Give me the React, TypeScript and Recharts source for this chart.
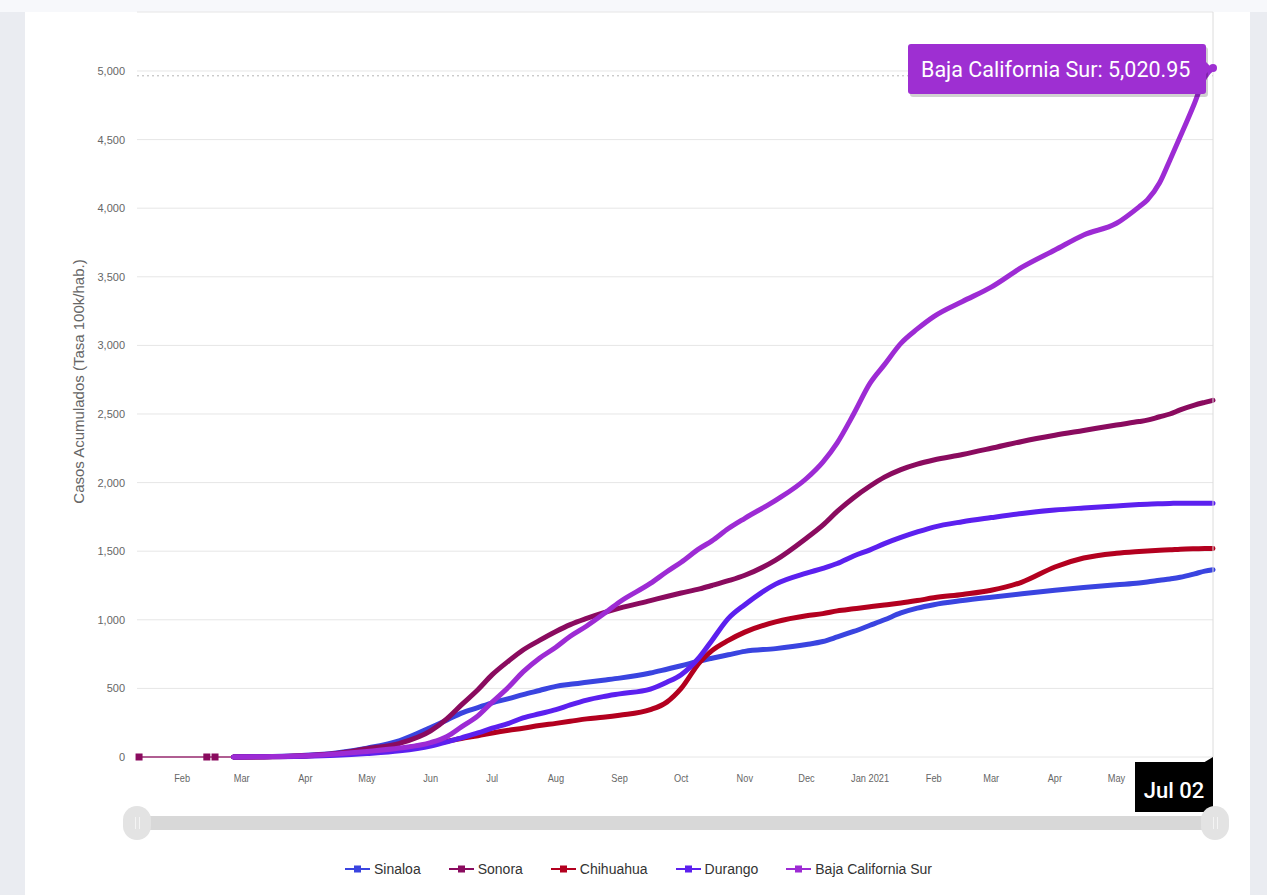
import {
  LineChart,
  Line,
  XAxis,
  YAxis,
  CartesianGrid,
  ReferenceLine,
  ReferenceDot,
} from 'recharts'

// day of year counted from Jan 1 2020 (Feb 1 2020 = 31)
const days = [
  56, 75, 91, 106, 121, 137, 152, 160, 167, 175,
  182, 190, 197, 205, 213, 220, 228, 236, 244, 259,
  267, 274, 283, 289, 297, 305, 320, 335, 343, 350,
  358, 366, 373, 381, 389, 397, 411, 425, 440, 456,
  470, 486, 497, 501, 507, 512, 517, 524, 529, 533,
]

const sinaloa = [
  0, 3, 12, 30, 65, 120, 215, 270, 320, 360,
  395, 425, 455, 485, 515, 530, 545, 560, 575, 612,
  640, 665, 700, 720, 745, 770, 790, 820, 842, 875,
  915, 960, 1000, 1050, 1085, 1110, 1140, 1165, 1190, 1215,
  1235, 1255, 1268, 1275, 1288, 1298, 1310, 1335, 1355, 1365,
]

const sonora = [
  0, 3, 10, 25, 60, 100, 190, 280, 380, 490,
  600, 700, 780, 850, 915, 965, 1010, 1050, 1085, 1140,
  1170, 1195, 1225, 1250, 1285, 1325, 1435, 1595, 1690, 1790,
  1890, 1975, 2040, 2095, 2135, 2165, 2205, 2250, 2300, 2345,
  2380, 2420, 2445, 2455, 2480, 2500, 2530, 2565, 2585, 2600,
]

const chihuahua = [
  0, 2, 8, 18, 35, 60, 95, 115, 135, 155,
  175, 195, 210, 230, 245, 260, 278, 290, 305, 345,
  400, 500, 690, 775, 850, 910, 985, 1030, 1045, 1065,
  1080, 1095, 1108, 1122, 1140, 1160, 1185, 1215, 1275, 1385,
  1450, 1485, 1498, 1502, 1507, 1510, 1515, 1518, 1519, 1520,
]

const durango = [
  0, 2, 5, 12, 25, 45, 80, 110, 140, 175,
  210, 245, 285, 315, 345, 380, 415, 440, 460, 495,
  545, 600, 730, 850, 1010, 1110, 1260, 1340, 1375, 1410,
  1465, 1510, 1555, 1600, 1640, 1676, 1715, 1745, 1775, 1800,
  1815, 1830, 1840, 1843, 1846, 1848, 1850, 1850, 1850, 1850,
]

const bcs = [
  0, 3, 10, 22, 40, 65, 105, 150, 220, 300,
  400, 510, 620, 720, 800, 880, 955, 1040, 1130, 1265,
  1350, 1420, 1520, 1575, 1665, 1740, 1870, 2030, 2150, 2290,
  2500, 2725, 2860, 3015, 3120, 3210, 3320, 3425, 3570, 3695,
  3805, 3890, 4010, 4060, 4185, 4350, 4520, 4765, 4955, 5020.95,
]

// first few isolated Sonora reports before the main curve starts
const sonoraEarlyDays = [10, 43, 47, 57]
const sonoraEarlyValues = [0, 0, 0, 0]

const xTicks = [31, 60, 91, 121, 152, 182, 213, 244, 274, 305, 335, 366, 397, 425, 456, 486]
const xTickLabels = ['Feb', 'Mar', 'Apr', 'May', 'Jun', 'Jul', 'Aug', 'Sep', 'Oct', 'Nov', 'Dec', 'Jan 2021', 'Feb', 'Mar', 'Apr', 'May']
const yTicks = [0, 500, 1000, 1500, 2000, 2500, 3000, 3500, 4000, 4500, 5000]

const lastDay = 533
const lastDayLabel = 'Jul 02'
const hoverValue = 5020.95
const hoverName = 'Baja California Sur'

const series = [
  { key: 'Sinaloa', values: sinaloa, color: '#3a44e0' },
  { key: 'Sonora', values: sonora, color: '#8a0b5f' },
  { key: 'Chihuahua', values: chihuahua, color: '#b3001f' },
  { key: 'Durango', values: durango, color: '#5c20ef' },
  { key: 'Baja California Sur', values: bcs, color: '#9d2bd4' },
]

const data = days.map((d, i) => {
  const row: Record<string, number> = { day: d }
  series.forEach(s => { row[s.key] = s.values[i] })
  return row
})

const earlyData = sonoraEarlyDays.map((d, i) => ({ day: d, v: sonoraEarlyValues[i] }))

const sans = '"Liberation Sans", Arial, sans-serif'

function SquareDot(props: any) {
  const { cx, cy, index } = props
  if (index >= sonoraEarlyDays.length - 1) return <g key={'d' + index} />
  return <rect key={'d' + index} x={cx - 3.5} y={cy - 3.5} width={7} height={7} fill="#8a0b5f" />
}

function XTick(props: any) {
  const { x, y, payload } = props
  return (
    <text transform={`translate(${x} ${y + 9}) scale(0.84 1)`} textAnchor="middle" fontSize={11}
      fill="#666" fontFamily={sans}>
      {xTickLabels[xTicks.indexOf(payload.value)] ?? ''}
    </text>
  )
}

function HoverBox(props: any) {
  const { cx, cy } = props
  const bx = cx - 305
  const by = cy - 24
  return (
    <g>
      <rect x={bx + 2} y={by + 3} width={298} height={50} rx={3} fill="rgba(0,0,0,0.18)" />
      <rect x={bx} y={by} width={298} height={50} rx={3} fill="#9e2fd2" />
      <path d={`M ${bx + 298} ${by + 18} L ${cx - 1} ${cy} L ${bx + 298} ${by + 30} Z`} fill="#9e2fd2" />
      <text x={bx + 13} y={by + 33} fill="#fff" fontSize={21.5} fontFamily="Roboto, sans-serif">
        {hoverName}: {hoverValue.toLocaleString('en-US', { minimumFractionDigits: 2 })}
      </text>
      <circle cx={cx} cy={cy} r={4} fill="#9e2fd2" />
    </g>
  )
}

function DateFlag(props: any) {
  const { viewBox } = props
  const x = viewBox.x
  const bottom = viewBox.y + viewBox.height
  return (
    <g>
      <rect x={x - 78} y={bottom + 5} width={78} height={50} fill="#000" />
      <path d={`M ${x - 10} ${bottom + 6} L ${x} ${bottom} L ${x} ${bottom + 6} Z`} fill="#000" />
      <text x={x - 39} y={bottom + 41} fill="#fff" fontSize={22} fontWeight={500} textAnchor="middle"
        fontFamily="Roboto, sans-serif">
        {lastDayLabel}
      </text>
    </g>
  )
}

function YTitle(props: any) {
  const { viewBox } = props
  const cy = viewBox.y + viewBox.height / 2 - 3
  return (
    <text x={78} y={cy} transform={`rotate(-90 78 ${cy})`} textAnchor="middle" dominantBaseline="central"
      fontSize={15} fill="#666" fontFamily={sans}>
      Casos Acumulados (Tasa 100k/hab.)
    </text>
  )
}

function Handle({ left }: { left: number }) {
  return (
    <div style={{
      position: 'absolute', left: left - 14, top: 806, width: 28, height: 34, borderRadius: 14,
      background: '#e3e3e3', display: 'flex', justifyContent: 'center', alignItems: 'center', gap: 3,
    }}>
      <div style={{ width: 1, height: 12, background: '#f4f4f4' }} />
      <div style={{ width: 1, height: 12, background: '#f4f4f4' }} />
    </div>
  )
}

export default function App() {
  return (
    <div style={{ position: 'fixed', left: 0, top: 0, width: 1267, height: 895, background: '#eaecf1', overflow: 'hidden' }}>
      <div style={{ position: 'absolute', left: 0, top: 0, width: 1267, height: 12, background: '#f7f8fb' }} />
      <div style={{ position: 'absolute', left: 25, top: 12, width: 1225, height: 883, background: '#fff' }} />
      <div style={{ position: 'absolute', left: 0, top: 0 }}>
        <LineChart width={1267} height={895} data={data} margin={{ top: 12, right: 54, bottom: 108, left: 77 }}>
          <CartesianGrid vertical={false} stroke="#e6e6e6" />
          <XAxis
            dataKey="day"
            type="number"
            domain={[9, 533]}
            ticks={xTicks}
            tick={XTick}
            tickLine={false}
            axisLine={false}
            tickMargin={10}
            height={30}
          />
          <YAxis
            type="number"
            domain={[0, 5430]}
            ticks={yTicks}
            tickFormatter={v => v.toLocaleString('en-US')}
            tick={{ fontSize: 11, fill: '#666', fontFamily: sans }}
            tickLine={false}
            axisLine={false}
            tickMargin={6}
            width={60}
            label={{ content: YTitle }}
          />
          <ReferenceLine y={4965} stroke="#b5b5b5" strokeDasharray="2 3" />
          <Line data={earlyData} dataKey="v" type="linear" stroke="#9a2c72" strokeWidth={1.5}
            dot={SquareDot} activeDot={false} legendType="none" isAnimationActive={false} />
          {series.map(s => (
            <Line key={s.key} dataKey={s.key} name={s.key} type="monotone" stroke={s.color}
              strokeWidth={5} strokeLinecap="round" strokeLinejoin="round"
              dot={false} activeDot={false} isAnimationActive={false} />
          ))}
          <ReferenceLine x={lastDay} stroke="#dcdcdc" label={{ content: DateFlag }} />
          <ReferenceDot x={lastDay} y={hoverValue} shape={HoverBox} />
        </LineChart>
      </div>
      <div style={{ position: 'absolute', left: 137, top: 816, width: 1078, height: 14, background: '#d8d8d8' }} />
      <Handle left={137} />
      <Handle left={1215} />
      <div style={{
        position: 'absolute', left: 5, top: 858, width: 1267, display: 'flex', justifyContent: 'center',
        gap: 28, fontFamily: sans, fontSize: 14, color: '#333',
      }}>
        {series.map(s => (
          <div key={s.key} style={{ display: 'flex', alignItems: 'center', gap: 4, height: 22 }}>
            <svg width={25} height={12}>
              <line x1={0} y1={6} x2={25} y2={6} stroke={s.color} strokeWidth={2} />
              <rect x={9} y={2.5} width={7} height={7} fill={s.color} />
            </svg>
            <span>{s.key}</span>
          </div>
        ))}
      </div>
    </div>
  )
}
